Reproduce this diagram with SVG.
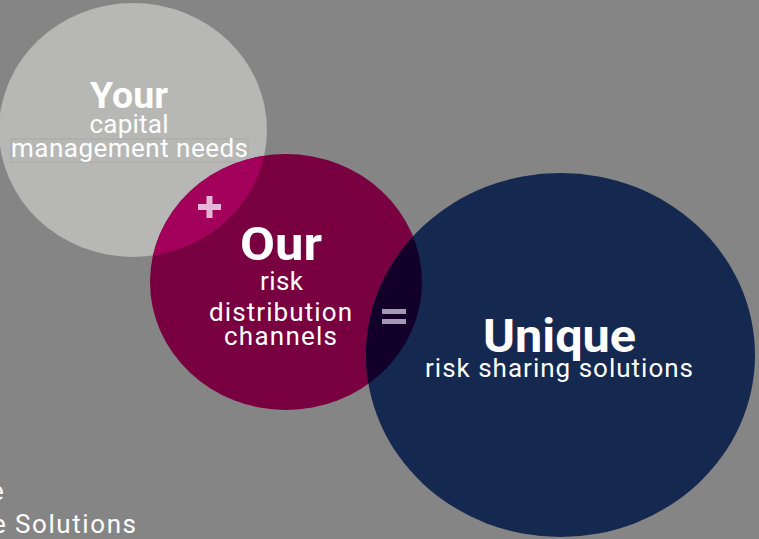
<svg xmlns="http://www.w3.org/2000/svg" width="759" height="539" viewBox="0 0 759 539">
<style>
text{font-family:Roboto,"Liberation Sans",sans-serif;fill:#ffffff;text-anchor:middle}
.b{font-weight:bold}
.r{font-size:26px}
</style>
<defs>
<clipPath id="cm"><ellipse cx="286" cy="282" rx="136" ry="128"/></clipPath>
</defs>
<rect width="759" height="539" fill="#858585"/>
<g id="your">
<ellipse cx="133" cy="130" rx="134" ry="127" fill="#b7b7b6"/>
<rect x="11" y="139" width="237" height="23" fill="none" stroke="#aaaaaa" stroke-width="1"/>
<text class="b" x="129" y="108" font-size="37" textLength="78" lengthAdjust="spacingAndGlyphs">Your</text>
<text class="r" x="129" y="133" textLength="79">capital</text>
<text class="r" x="129.5" y="157" textLength="237">management needs</text>
</g>
<g id="our">
<ellipse cx="286" cy="282" rx="136" ry="128" fill="#780040"/>
<ellipse cx="133" cy="130" rx="134" ry="127" fill="#a2005a" clip-path="url(#cm)"/>
</g>
<g id="unique">
<ellipse cx="560.5" cy="355" rx="194.5" ry="182" fill="#152850"/>
<ellipse cx="560.5" cy="355" rx="194.5" ry="182" fill="#12002a" clip-path="url(#cm)"/>
</g>
<g id="our-text">
<text class="b" x="281" y="260" font-size="46" textLength="82" lengthAdjust="spacingAndGlyphs">Our</text>
<text class="r" x="281.5" y="290" textLength="43">risk</text>
<text class="r" x="280.5" y="321" textLength="143">distribution</text>
<text class="r" x="280.5" y="345" textLength="113">channels</text>
</g>
<g id="unique-text">
<text class="b" x="559.5" y="352" font-size="46" textLength="153" lengthAdjust="spacingAndGlyphs">Unique</text>
<text class="r" x="559" y="377" textLength="268">risk sharing solutions</text>
</g>
<g id="connectors">
<rect x="198" y="204" width="23" height="6" fill="#e6b6d6"/>
<rect x="206.5" y="196" width="6" height="22" fill="#e6b6d6"/>
<rect x="382" y="309" width="24" height="5" fill="#a499b5"/>
<rect x="382" y="319" width="24" height="5" fill="#a499b5"/>
</g>
<g id="footer">
<text class="r" x="-10" y="500" style="text-anchor:start">e</text>
<text class="r" x="-8" y="533" style="text-anchor:start">e <tspan x="15" textLength="121">Solutions</tspan></text>
</g>
</svg>
